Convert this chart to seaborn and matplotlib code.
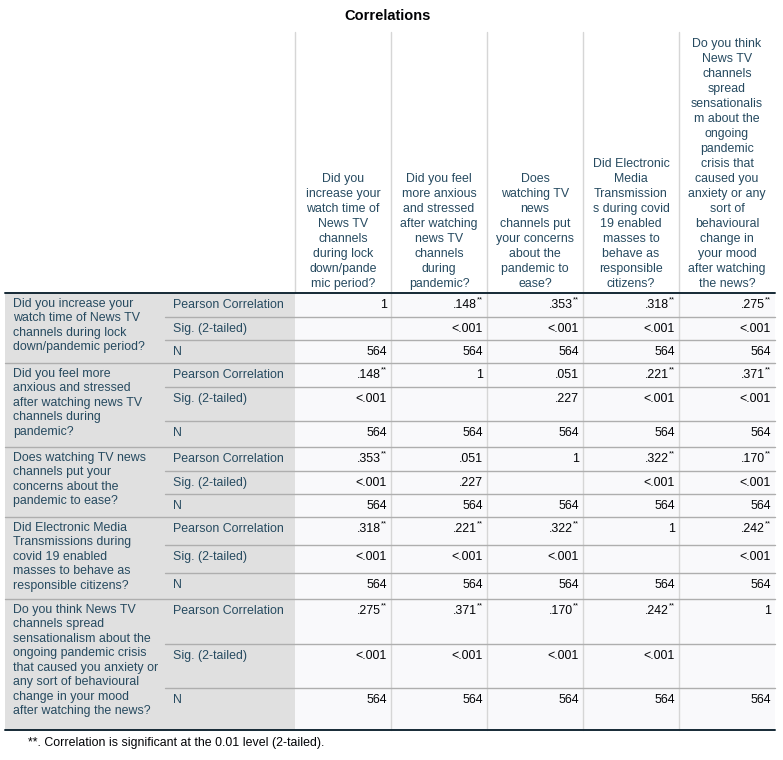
import matplotlib.pyplot as plt
import seaborn as sns

# --- table data (SPSS Correlations output) ---
col_heads = [
    "Did you\nincrease your\nwatch time of\nNews TV\nchannels\nduring lock\ndown/pande\nmic period?",
    "Did you feel\nmore anxious\nand stressed\nafter watching\nnews TV\nchannels\nduring\npandemic?",
    "Does\nwatching TV\nnews\nchannels put\nyour concerns\nabout the\npandemic to\nease?",
    "Did Electronic\nMedia\nTransmission\ns during covid\n19 enabled\nmasses to\nbehave as\nresponsible\ncitizens?",
    "Do you think\nNews TV\nchannels\nspread\nsensationalis\nm about the\nongoing\npandemic\ncrisis that\ncaused you\nanxiety or any\nsort of\nbehavioural\nchange in\nyour mood\nafter watching\nthe news?",
]
row_heads = [
    "Did you increase your\nwatch time of News TV\nchannels during lock\ndown/pandemic period?",
    "Did you feel more\nanxious and stressed\nafter watching news TV\nchannels during\npandemic?",
    "Does watching TV news\nchannels put your\nconcerns about the\npandemic to ease?",
    "Did Electronic Media\nTransmissions during\ncovid 19 enabled\nmasses to behave as\nresponsible citizens?",
    "Do you think News TV\nchannels spread\nsensationalism about the\nongoing pandemic crisis\nthat caused you anxiety or\nany sort of behavioural\nchange in your mood\nafter watching the news?",
]
stat_labels = ["Pearson Correlation", "Sig. (2-tailed)", "N"]
r_vals = [
    [1, .148, .353, .318, .275],
    [.148, 1, .051, .221, .371],
    [.353, .051, 1, .322, .170],
    [.318, .221, .322, 1, .242],
    [.275, .371, .170, .242, 1],
]
p_vals = [
    [None, .0001, .0001, .0001, .0001],
    [.0001, None, .227, .0001, .0001],
    [.0001, .227, None, .0001, .0001],
    [.0001, .0001, .0001, None, .0001],
    [.0001, .0001, .0001, .0001, None],
]
n_obs = 564

# --- layout (pixels) ---
W, H = 783, 760
col_x = [295, 391, 487, 583, 679, 775]
row_y = [[293, 317, 340, 363], [363, 387, 421, 447], [447, 471, 494, 517],
         [517, 545, 573, 599], [599, 644, 688, 730]]
LAB = "#264A60"
FS = 8.9

sns.set_style("white")
plt.rcParams['font.family'] = ['Liberation Sans', 'DejaVu Sans']
fig = plt.figure(figsize=(W / 100, H / 100), dpi=100)
ax = fig.add_axes([0, 0, 1, 1])
ax.set_xlim(0, W)
ax.set_ylim(H, 0)
ax.axis("off")

ax.text(388, 16, "Correlations", ha="center", va="center", fontsize=10.5,
        fontweight="bold", color="#010205")

# backgrounds
ax.fill_between([5, 295], 293, 730, color="#E0E0E0", lw=0)
ax.fill_between([295, 775], 293, 730, color="#F9F9FB", lw=0)

# vertical lines
for x in col_x[1:-1]:
    ax.plot([x, x], [32, 730], color="#D6D6D6", lw=1)
ax.plot([295, 295], [32, 293], color="#D6D6D6", lw=1)

# header
for j, txt in enumerate(col_heads):
    cx = (col_x[j] + col_x[j + 1]) / 2
    ax.text(cx, 290, txt, ha="center", va="bottom", fontsize=FS, color=LAB,
            linespacing=1.33)


def fmt_r(v):
    return "1" if v == 1 else ("%.3f" % v)[1:]


for i in range(5):
    ys = row_y[i]
    ax.plot([5, 775], [ys[0], ys[0]], color="#AEAEAE" if i else "#152935",
            lw=1 if i else 1.4)
    for k in (1, 2):
        ax.plot([165, 775], [ys[k], ys[k]], color="#AEAEAE", lw=1)
    ax.text(13, ys[0] + 5, row_heads[i], ha="left", va="top", fontsize=FS,
            color=LAB, linespacing=1.27)
    for k, lab in enumerate(stat_labels):
        ty = ys[k] + 12
        ax.text(173, ty, lab, ha="left", va="center", fontsize=FS, color=LAB)
        for j in range(5):
            xr = col_x[j + 1] - 4
            if k == 0:
                v = r_vals[i][j]
                p = p_vals[i][j]
                if p is not None and p < .01:
                    ax.text(xr - 6, ty, fmt_r(v), ha="right", va="center",
                            fontsize=FS, color="#010205")
                    ax.text(xr, ty - 5, "**", ha="right", va="center",
                            fontsize=5.5, color="#010205")
                else:
                    ax.text(xr, ty, fmt_r(v), ha="right", va="center",
                            fontsize=FS, color="#010205")
            elif k == 1:
                p = p_vals[i][j]
                if p is None:
                    continue
                s = "<.001" if p < .001 else ("%.3f" % p)[1:]
                ax.text(xr, ty, s, ha="right", va="center", fontsize=FS,
                        color="#010205")
            else:
                ax.text(xr, ty, str(n_obs), ha="right", va="center",
                        fontsize=FS, color="#010205")

ax.plot([5, 775], [730, 730], color="#152935", lw=1.4)
ax.text(28, 743, "**. Correlation is significant at the 0.01 level (2-tailed).",
        ha="left", va="center", fontsize=FS, color="#010205")

fig.savefig("out.png", dpi=100)
